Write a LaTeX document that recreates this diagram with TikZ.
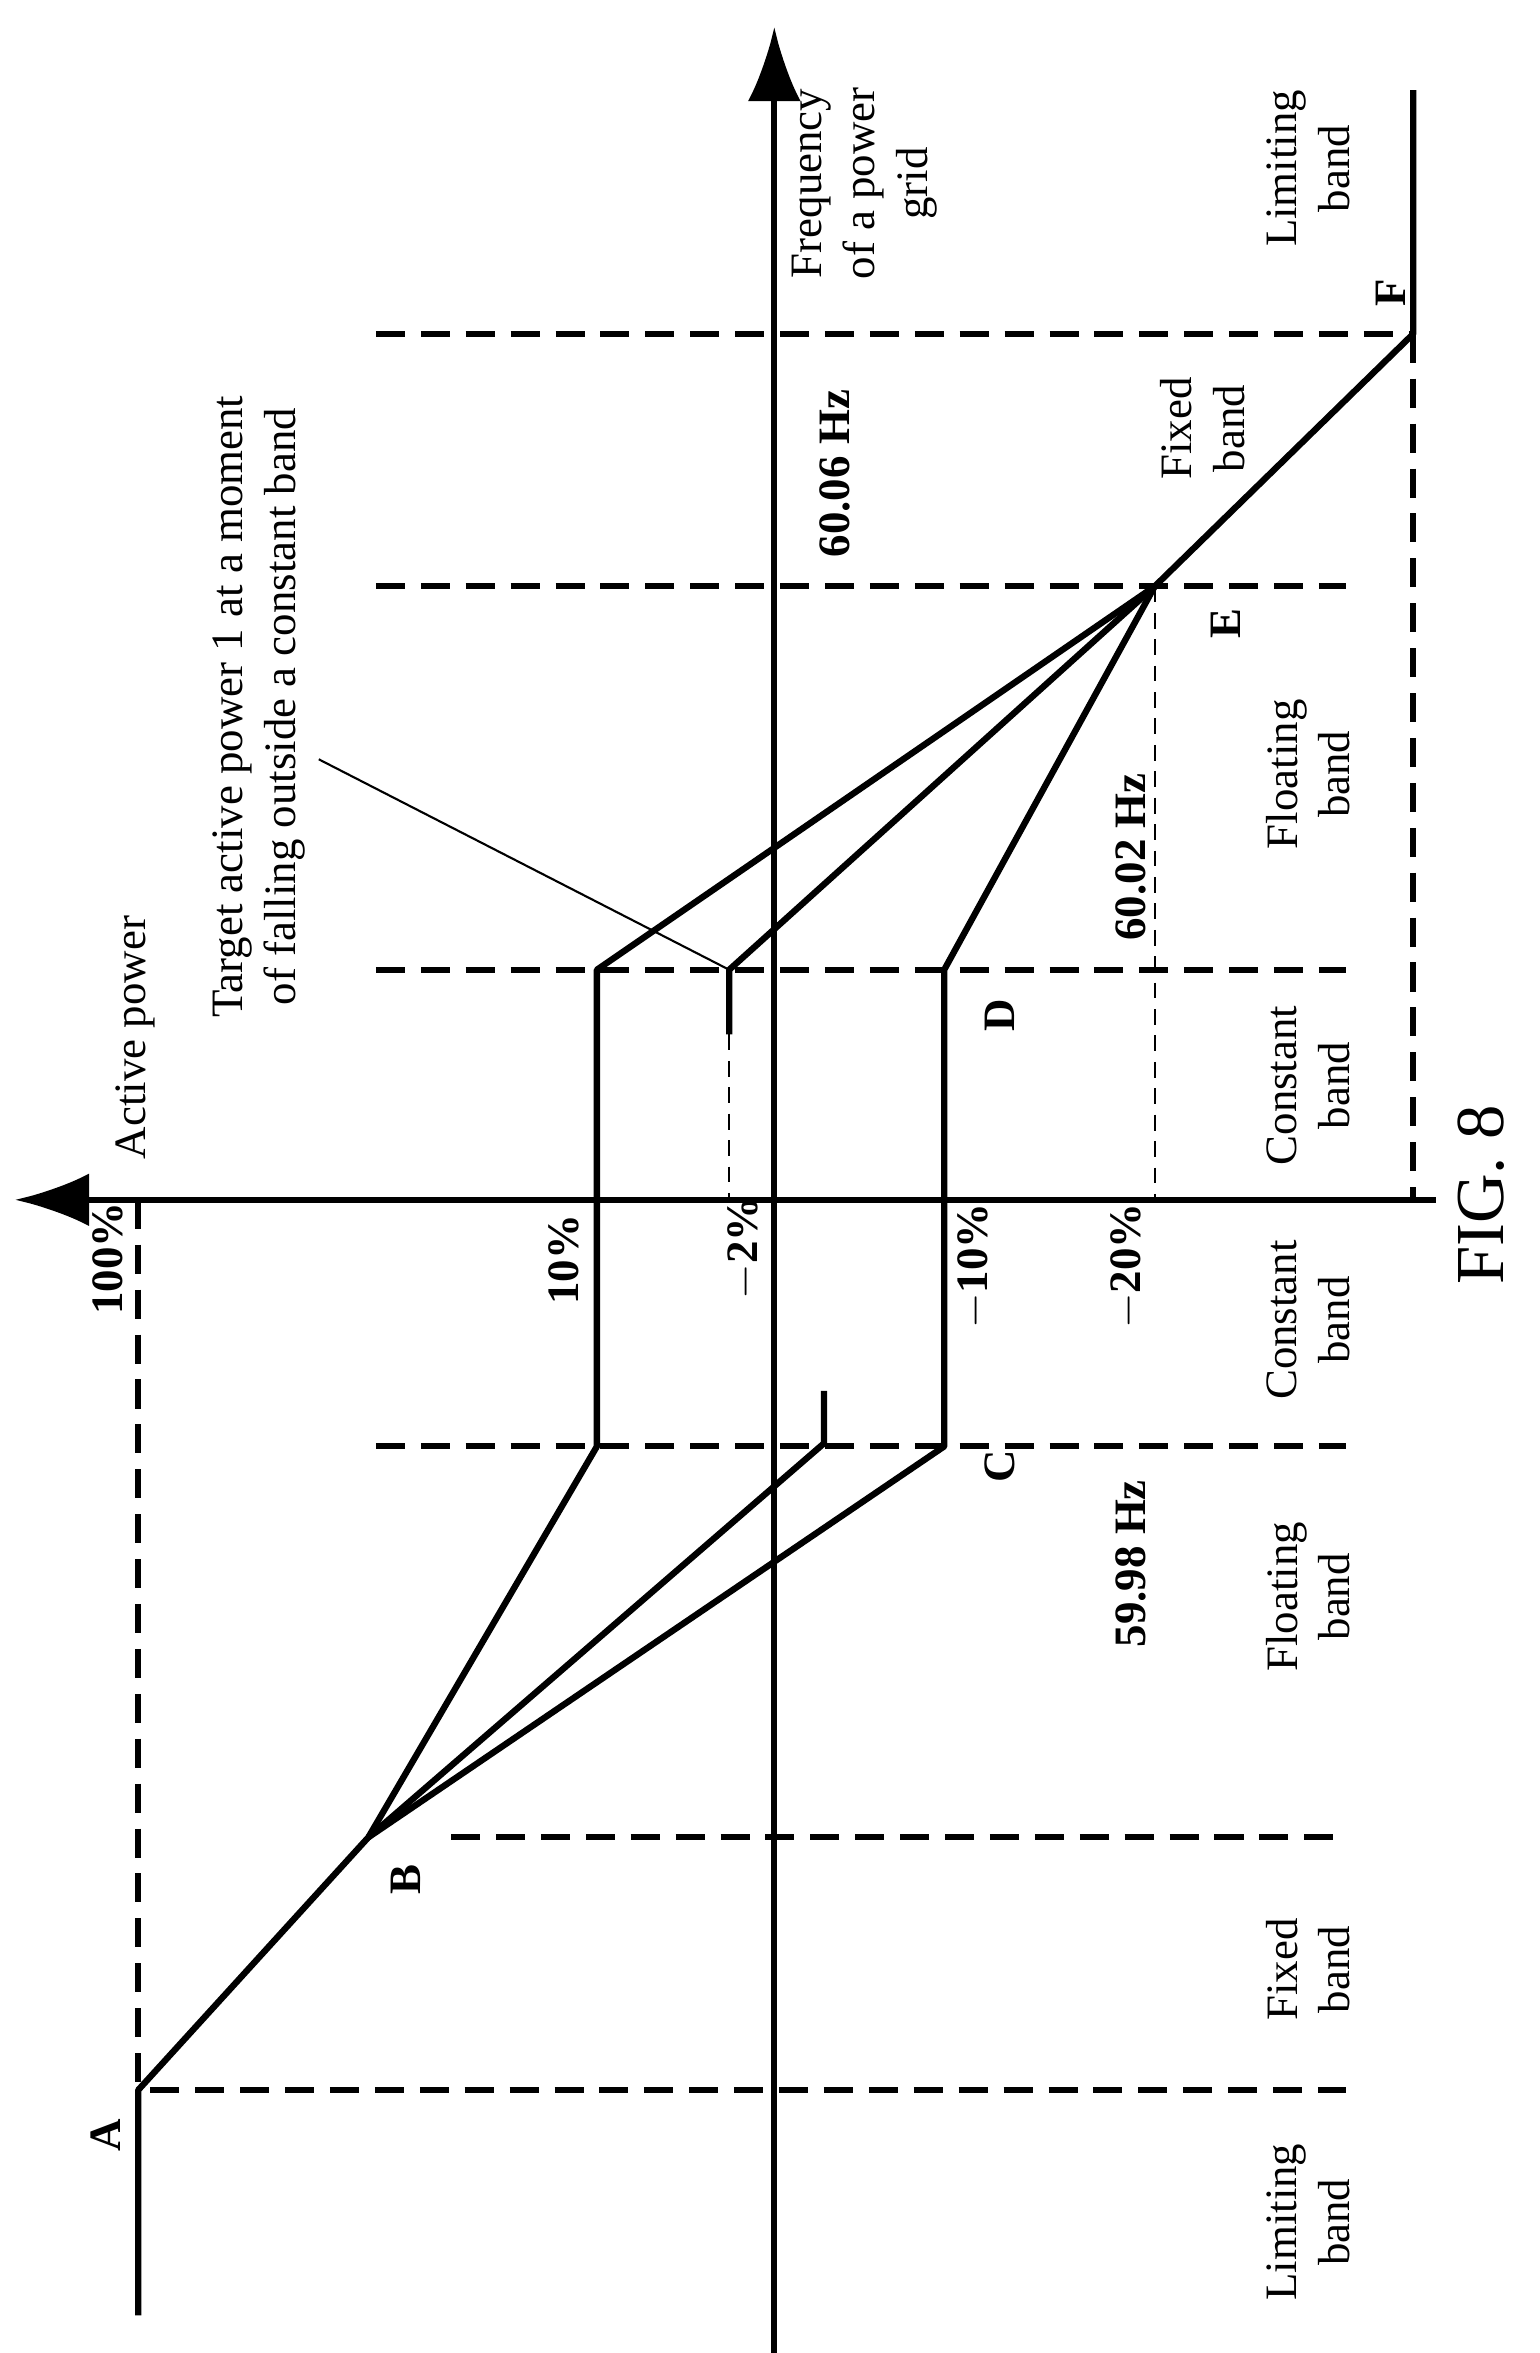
\documentclass[tikz,border=0pt]{standalone}
\usepackage{fontspec}
\usetikzlibrary{arrows.meta}
\setmainfont{Liberation Serif}
\begin{document}
\begin{tikzpicture}[x=0.02cm,y=-0.02cm,
 thick line/.style={line width=2.4pt},
 dash line/.style={line width=2.2pt,dash pattern=on 11pt off 6pt},
 thin dash/.style={line width=0.8pt,dash pattern=on 6pt off 4pt},
 lbl/.style={rotate=90,font=\fontsize{17}{20}\selectfont,align=center},
 blbl/.style={rotate=90,font=\fontsize{17}{20}\selectfont\bfseries}]
\useasboundingbox (0,0) rectangle (1024,1565);
% axes
\coordinate (fb) at (515,1580); \coordinate (ft) at (515,18);
\draw[thick line,-{Latex[length=28pt,width=20pt]}] (fb) -- (ft);
\coordinate (pr) at (955,798); \coordinate (pl) at (10,798);
\draw[thick line,-{Latex[length=28pt,width=20pt]}] (pr) -- (pl);
% points
\coordinate (A) at (92,1390); \coordinate (B) at (245,1222);
\coordinate (P1) at (397,962); \coordinate (P2) at (397,645);
\coordinate (E) at (768,390); \coordinate (F) at (940,222);
\coordinate (C) at (628,962); \coordinate (D) at (628,645);
\coordinate (M1) at (548,960); \coordinate (M1t) at (548,925);
\coordinate (M2) at (485,645); \coordinate (M2b) at (485,688);
% dashed lines
\draw[dash line] (92,798) -- (A);
\draw[dash line] (F) -- (940,798);
\draw[dash line] (250,222) -- (F);
\draw[dash line] (250,390) -- (895,390);
\draw[dash line] (250,645) -- (895,645);
\draw[dash line] (250,962) -- (895,962);
\draw[dash line] (300,1222) -- (895,1222);
\draw[dash line] (100,1390) -- (895,1390);
% curves
\draw[thick line,line join=round] (92,1540) -- (A) -- (B) -- (P1) -- (P2) -- (E) -- (F) -- (940,60);
\draw[thick line,line join=round] (B) -- (C) -- (D) -- (E);
\draw[thick line,line join=round] (B) -- (M1) -- (M1t);
\draw[thick line,line join=round] (E) -- (M2) -- (M2b);
\draw[thin dash] (M2b) -- (485,798);
\draw[thin dash] (E) -- (768,798);
% annotation
\node[lbl] (tgt) at (172,470) {Target active power 1 at a moment\\of falling outside a constant band};
\draw[line width=0.8pt] (212,505) -- (M2);
\node[lbl] (ap) at (90,690) {Active power};
\node[lbl] (fr) at (575,122) {Frequency\\of a power\\grid};
\node[lbl] at (870,112) {Limiting\\band};
\node[lbl] at (800,285) {Fixed\\band};
\node[lbl] at (870,515) {Floating\\band};
\node[lbl] at (870,722) {Constant\\band};
\node[lbl] at (870,878) {Constant\\band};
\node[lbl] at (870,1062) {Floating\\band};
\node[lbl] at (870,1310) {Fixed\\band};
\node[lbl] at (870,1478) {Limiting\\band};
\node[blbl] at (555,315) {60.06 Hz};
\node[blbl] at (752,570) {60.02 Hz};
\node[blbl] at (752,1040) {59.98 Hz};
\node[blbl] at (815,415) {E};
\node[blbl] at (665,675) {D};
\node[blbl] at (665,975) {C};
\node[blbl] at (270,1250) {B};
\node[blbl] at (70,1420) {A};
\node[blbl] at (925,195) {F};
\node[blbl] at (72,837) {100\%};
\node[blbl] at (375,838) {10\%};
\node[blbl] at (495,830) {$-$2\%};
\node[blbl] at (648,842) {$-$10\%};
\node[blbl] at (750,842) {$-$20\%};
\node[rotate=90,font=\fontsize{26}{30}\selectfont] at (985,795) {FIG. 8};
\end{tikzpicture}
\end{document}
